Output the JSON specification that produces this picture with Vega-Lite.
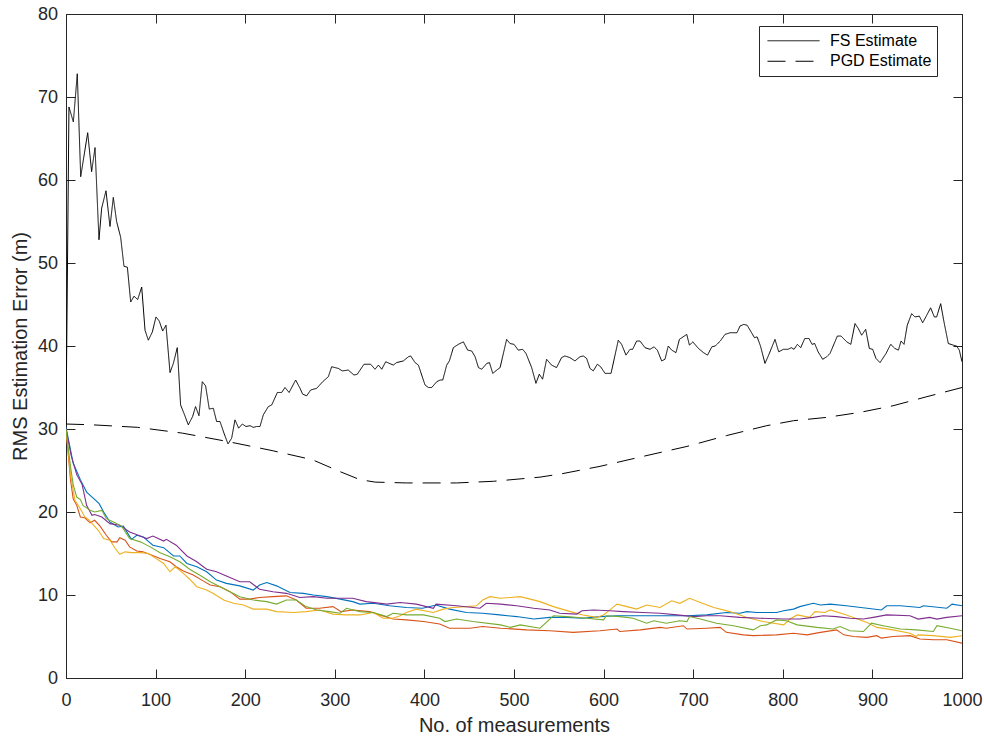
{
  "$schema": "https://vega.github.io/schema/vega-lite/v6.json",
  "width": 896,
  "height": 664,
  "autosize": {"type": "none"},
  "padding": {"left": 66, "top": 14, "right": 22, "bottom": 60},
  "background": "white",
  "config": {
    "view": {"stroke": "#262626", "strokeWidth": 1},
    "font": "Liberation Sans",
    "axis": {"grid": false, "domainColor": "#262626", "tickColor": "#262626", "labelColor": "#262626", "titleColor": "#262626", "labelFont": "Liberation Sans", "titleFont": "Liberation Sans", "titleFontWeight": "normal", "labelFontSize": 18, "titleFontSize": 20, "tickSize": -9, "labelFlush": false, "labelOverlap": false}
  },
  "datasets": {
    "est": [
      {"n":0,"v":30.6,"s":"FS Estimate"},{"n":3.3,"v":68.8,"s":"FS Estimate"},{"n":8.2,"v":67.0,"s":"FS Estimate"},{"n":12.6,"v":72.8,"s":"FS Estimate"},{"n":16.4,"v":60.4,"s":"FS Estimate"},{"n":24.2,"v":65.7,"s":"FS Estimate"},{"n":28.6,"v":61.0,"s":"FS Estimate"},{"n":32.4,"v":63.9,"s":"FS Estimate"},{"n":36.8,"v":52.8,"s":"FS Estimate"},{"n":39.8,"v":56.6,"s":"FS Estimate"},{"n":44.6,"v":58.7,"s":"FS Estimate"},{"n":49.1,"v":54.4,"s":"FS Estimate"},{"n":52.8,"v":57.9,"s":"FS Estimate"},{"n":56.5,"v":55.0,"s":"FS Estimate"},{"n":61.0,"v":53.1,"s":"FS Estimate"},{"n":64.7,"v":49.6,"s":"FS Estimate"},{"n":68.5,"v":49.5,"s":"FS Estimate"},{"n":72.2,"v":45.3,"s":"FS Estimate"},{"n":75.9,"v":46.0,"s":"FS Estimate"},{"n":80.0,"v":45.6,"s":"FS Estimate"},{"n":84.5,"v":47.1,"s":"FS Estimate"},{"n":88.2,"v":41.9,"s":"FS Estimate"},{"n":91.9,"v":40.7,"s":"FS Estimate"},{"n":96.4,"v":41.7,"s":"FS Estimate"},{"n":100.4,"v":43.5,"s":"FS Estimate"},{"n":104.1,"v":43.0,"s":"FS Estimate"},{"n":107.9,"v":41.8,"s":"FS Estimate"},{"n":111.6,"v":42.5,"s":"FS Estimate"},{"n":116.1,"v":36.8,"s":"FS Estimate"},{"n":119.8,"v":37.9,"s":"FS Estimate"},{"n":124.2,"v":39.8,"s":"FS Estimate"},{"n":127.9,"v":32.9,"s":"FS Estimate"},{"n":131.6,"v":31.9,"s":"FS Estimate"},{"n":136.5,"v":30.5,"s":"FS Estimate"},{"n":141.3,"v":31.5,"s":"FS Estimate"},{"n":144.6,"v":32.7,"s":"FS Estimate"},{"n":148.4,"v":31.6,"s":"FS Estimate"},{"n":152.1,"v":35.7,"s":"FS Estimate"},{"n":155.8,"v":35.2,"s":"FS Estimate"},{"n":159.9,"v":32.4,"s":"FS Estimate"},{"n":164.4,"v":32.5,"s":"FS Estimate"},{"n":168.1,"v":30.9,"s":"FS Estimate"},{"n":171.9,"v":30.9,"s":"FS Estimate"},{"n":176.3,"v":29.5,"s":"FS Estimate"},{"n":180.8,"v":28.2,"s":"FS Estimate"},{"n":184.9,"v":28.9,"s":"FS Estimate"},{"n":188.6,"v":31.1,"s":"FS Estimate"},{"n":192.7,"v":30.1,"s":"FS Estimate"},{"n":196.8,"v":30.6,"s":"FS Estimate"},{"n":200.9,"v":30.3,"s":"FS Estimate"},{"n":205.4,"v":30.4,"s":"FS Estimate"},{"n":209.1,"v":30.2,"s":"FS Estimate"},{"n":212.8,"v":30.3,"s":"FS Estimate"},{"n":216.5,"v":30.3,"s":"FS Estimate"},{"n":220.2,"v":31.7,"s":"FS Estimate"},{"n":225.8,"v":32.7,"s":"FS Estimate"},{"n":229.6,"v":32.9,"s":"FS Estimate"},{"n":235.9,"v":34.4,"s":"FS Estimate"},{"n":240.7,"v":34.4,"s":"FS Estimate"},{"n":244.4,"v":35.0,"s":"FS Estimate"},{"n":249.0,"v":34.4,"s":"FS Estimate"},{"n":256.3,"v":35.9,"s":"FS Estimate"},{"n":261.2,"v":34.9,"s":"FS Estimate"},{"n":264.1,"v":34.2,"s":"FS Estimate"},{"n":268.6,"v":34.0,"s":"FS Estimate"},{"n":273.1,"v":34.7,"s":"FS Estimate"},{"n":279.8,"v":34.9,"s":"FS Estimate"},{"n":286.5,"v":35.7,"s":"FS Estimate"},{"n":292.8,"v":36.3,"s":"FS Estimate"},{"n":296.5,"v":37.5,"s":"FS Estimate"},{"n":303.9,"v":37.3,"s":"FS Estimate"},{"n":308.4,"v":37.0,"s":"FS Estimate"},{"n":315.1,"v":37.1,"s":"FS Estimate"},{"n":321.4,"v":36.5,"s":"FS Estimate"},{"n":325.1,"v":36.6,"s":"FS Estimate"},{"n":332.6,"v":37.8,"s":"FS Estimate"},{"n":340.0,"v":37.8,"s":"FS Estimate"},{"n":344.9,"v":37.2,"s":"FS Estimate"},{"n":348.7,"v":37.7,"s":"FS Estimate"},{"n":352.4,"v":37.2,"s":"FS Estimate"},{"n":356.8,"v":38.1,"s":"FS Estimate"},{"n":365.3,"v":37.7,"s":"FS Estimate"},{"n":369.0,"v":38.0,"s":"FS Estimate"},{"n":376.5,"v":38.2,"s":"FS Estimate"},{"n":382.1,"v":38.7,"s":"FS Estimate"},{"n":384.7,"v":38.8,"s":"FS Estimate"},{"n":389.6,"v":38.0,"s":"FS Estimate"},{"n":393.3,"v":37.7,"s":"FS Estimate"},{"n":397.0,"v":36.5,"s":"FS Estimate"},{"n":400.7,"v":35.3,"s":"FS Estimate"},{"n":404.5,"v":35.0,"s":"FS Estimate"},{"n":408.2,"v":35.0,"s":"FS Estimate"},{"n":413.8,"v":35.7,"s":"FS Estimate"},{"n":417.6,"v":35.9,"s":"FS Estimate"},{"n":420.5,"v":35.9,"s":"FS Estimate"},{"n":424.9,"v":37.7,"s":"FS Estimate"},{"n":427.9,"v":38.2,"s":"FS Estimate"},{"n":432.3,"v":39.8,"s":"FS Estimate"},{"n":437.9,"v":40.2,"s":"FS Estimate"},{"n":443.5,"v":40.5,"s":"FS Estimate"},{"n":448.3,"v":39.5,"s":"FS Estimate"},{"n":452.8,"v":39.4,"s":"FS Estimate"},{"n":456.6,"v":38.7,"s":"FS Estimate"},{"n":460.3,"v":37.4,"s":"FS Estimate"},{"n":464.0,"v":37.2,"s":"FS Estimate"},{"n":469.6,"v":37.9,"s":"FS Estimate"},{"n":472.6,"v":38.0,"s":"FS Estimate"},{"n":476.3,"v":36.7,"s":"FS Estimate"},{"n":480.8,"v":37.1,"s":"FS Estimate"},{"n":484.5,"v":37.4,"s":"FS Estimate"},{"n":491.8,"v":40.8,"s":"FS Estimate"},{"n":495.5,"v":40.3,"s":"FS Estimate"},{"n":500.0,"v":40.2,"s":"FS Estimate"},{"n":504.8,"v":39.5,"s":"FS Estimate"},{"n":509.7,"v":39.6,"s":"FS Estimate"},{"n":513.4,"v":39.1,"s":"FS Estimate"},{"n":519.7,"v":37.4,"s":"FS Estimate"},{"n":524.5,"v":35.5,"s":"FS Estimate"},{"n":528.2,"v":36.6,"s":"FS Estimate"},{"n":531.9,"v":36.0,"s":"FS Estimate"},{"n":536.4,"v":38.4,"s":"FS Estimate"},{"n":541.9,"v":37.7,"s":"FS Estimate"},{"n":547.5,"v":37.4,"s":"FS Estimate"},{"n":553.1,"v":38.6,"s":"FS Estimate"},{"n":556.8,"v":38.8,"s":"FS Estimate"},{"n":562.4,"v":38.6,"s":"FS Estimate"},{"n":568.0,"v":38.2,"s":"FS Estimate"},{"n":573.6,"v":38.7,"s":"FS Estimate"},{"n":577.4,"v":38.8,"s":"FS Estimate"},{"n":581.1,"v":38.5,"s":"FS Estimate"},{"n":584.8,"v":37.3,"s":"FS Estimate"},{"n":588.5,"v":37.0,"s":"FS Estimate"},{"n":593.0,"v":37.8,"s":"FS Estimate"},{"n":596.7,"v":37.5,"s":"FS Estimate"},{"n":601.6,"v":36.7,"s":"FS Estimate"},{"n":608.3,"v":36.7,"s":"FS Estimate"},{"n":616.4,"v":40.7,"s":"FS Estimate"},{"n":620.1,"v":40.2,"s":"FS Estimate"},{"n":625.0,"v":38.9,"s":"FS Estimate"},{"n":629.5,"v":39.6,"s":"FS Estimate"},{"n":632.4,"v":39.6,"s":"FS Estimate"},{"n":636.9,"v":40.6,"s":"FS Estimate"},{"n":640.6,"v":40.6,"s":"FS Estimate"},{"n":646.2,"v":39.8,"s":"FS Estimate"},{"n":651.8,"v":39.6,"s":"FS Estimate"},{"n":656.3,"v":39.9,"s":"FS Estimate"},{"n":660.0,"v":39.5,"s":"FS Estimate"},{"n":664.8,"v":38.2,"s":"FS Estimate"},{"n":668.5,"v":38.4,"s":"FS Estimate"},{"n":672.2,"v":40.0,"s":"FS Estimate"},{"n":676.0,"v":39.5,"s":"FS Estimate"},{"n":680.8,"v":39.2,"s":"FS Estimate"},{"n":684.6,"v":40.8,"s":"FS Estimate"},{"n":692.8,"v":41.4,"s":"FS Estimate"},{"n":695.8,"v":40.1,"s":"FS Estimate"},{"n":699.5,"v":40.5,"s":"FS Estimate"},{"n":705.9,"v":39.7,"s":"FS Estimate"},{"n":711.5,"v":39.2,"s":"FS Estimate"},{"n":716.0,"v":38.9,"s":"FS Estimate"},{"n":720.8,"v":39.9,"s":"FS Estimate"},{"n":724.6,"v":40.0,"s":"FS Estimate"},{"n":730.2,"v":40.6,"s":"FS Estimate"},{"n":735.5,"v":41.4,"s":"FS Estimate"},{"n":741.4,"v":41.6,"s":"FS Estimate"},{"n":748.9,"v":41.6,"s":"FS Estimate"},{"n":752.2,"v":42.4,"s":"FS Estimate"},{"n":756.4,"v":42.6,"s":"FS Estimate"},{"n":760.2,"v":42.5,"s":"FS Estimate"},{"n":764.6,"v":41.7,"s":"FS Estimate"},{"n":768.4,"v":41.0,"s":"FS Estimate"},{"n":771.3,"v":41.1,"s":"FS Estimate"},{"n":775.1,"v":40.0,"s":"FS Estimate"},{"n":780.1,"v":37.9,"s":"FS Estimate"},{"n":784.2,"v":38.9,"s":"FS Estimate"},{"n":791.3,"v":40.8,"s":"FS Estimate"},{"n":795.4,"v":39.3,"s":"FS Estimate"},{"n":800.6,"v":39.6,"s":"FS Estimate"},{"n":805.8,"v":39.6,"s":"FS Estimate"},{"n":809.6,"v":39.8,"s":"FS Estimate"},{"n":812.5,"v":39.6,"s":"FS Estimate"},{"n":816.3,"v":40.2,"s":"FS Estimate"},{"n":820.0,"v":39.8,"s":"FS Estimate"},{"n":824.5,"v":40.9,"s":"FS Estimate"},{"n":829.3,"v":40.9,"s":"FS Estimate"},{"n":832.6,"v":40.2,"s":"FS Estimate"},{"n":835.6,"v":40.3,"s":"FS Estimate"},{"n":839.4,"v":39.3,"s":"FS Estimate"},{"n":844.5,"v":38.4,"s":"FS Estimate"},{"n":849.0,"v":38.7,"s":"FS Estimate"},{"n":852.7,"v":39.1,"s":"FS Estimate"},{"n":860.9,"v":41.2,"s":"FS Estimate"},{"n":865.0,"v":41.2,"s":"FS Estimate"},{"n":871.4,"v":40.5,"s":"FS Estimate"},{"n":875.9,"v":40.2,"s":"FS Estimate"},{"n":880.6,"v":42.7,"s":"FS Estimate"},{"n":884.3,"v":42.1,"s":"FS Estimate"},{"n":888.0,"v":41.3,"s":"FS Estimate"},{"n":892.5,"v":42.0,"s":"FS Estimate"},{"n":896.6,"v":39.7,"s":"FS Estimate"},{"n":900.3,"v":39.6,"s":"FS Estimate"},{"n":904.0,"v":38.5,"s":"FS Estimate"},{"n":908.5,"v":38.0,"s":"FS Estimate"},{"n":915.2,"v":39.1,"s":"FS Estimate"},{"n":920.4,"v":40.2,"s":"FS Estimate"},{"n":925.2,"v":39.7,"s":"FS Estimate"},{"n":929.0,"v":39.5,"s":"FS Estimate"},{"n":932.0,"v":40.6,"s":"FS Estimate"},{"n":935.3,"v":40.2,"s":"FS Estimate"},{"n":938.9,"v":42.5,"s":"FS Estimate"},{"n":943.8,"v":43.9,"s":"FS Estimate"},{"n":947.5,"v":43.5,"s":"FS Estimate"},{"n":952.4,"v":43.6,"s":"FS Estimate"},{"n":956.1,"v":42.8,"s":"FS Estimate"},{"n":960.6,"v":43.7,"s":"FS Estimate"},{"n":965.0,"v":44.6,"s":"FS Estimate"},{"n":969.1,"v":43.5,"s":"FS Estimate"},{"n":971.7,"v":43.5,"s":"FS Estimate"},{"n":976.2,"v":45.1,"s":"FS Estimate"},{"n":979.9,"v":42.9,"s":"FS Estimate"},{"n":984.7,"v":40.3,"s":"FS Estimate"},{"n":990.3,"v":40.1,"s":"FS Estimate"},{"n":994.0,"v":40.0,"s":"FS Estimate"},{"n":997.0,"v":39.5,"s":"FS Estimate"},{"n":1000,"v":38.1,"s":"FS Estimate"},
      {"n":0,"v":30.6,"s":"PGD Estimate"},{"n":30,"v":30.5,"s":"PGD Estimate"},{"n":80,"v":30.2,"s":"PGD Estimate"},{"n":130,"v":29.5,"s":"PGD Estimate"},{"n":180,"v":28.5,"s":"PGD Estimate"},{"n":230,"v":27.4,"s":"PGD Estimate"},{"n":275,"v":26.3,"s":"PGD Estimate"},{"n":305,"v":24.9,"s":"PGD Estimate"},{"n":328,"v":23.9,"s":"PGD Estimate"},{"n":345,"v":23.6,"s":"PGD Estimate"},{"n":380,"v":23.5,"s":"PGD Estimate"},{"n":436,"v":23.5,"s":"PGD Estimate"},{"n":477,"v":23.7,"s":"PGD Estimate"},{"n":529,"v":24.2,"s":"PGD Estimate"},{"n":553,"v":24.6,"s":"PGD Estimate"},{"n":596,"v":25.5,"s":"PGD Estimate"},{"n":644,"v":26.7,"s":"PGD Estimate"},{"n":693,"v":27.9,"s":"PGD Estimate"},{"n":737,"v":29.2,"s":"PGD Estimate"},{"n":782,"v":30.4,"s":"PGD Estimate"},{"n":812,"v":31.0,"s":"PGD Estimate"},{"n":849,"v":31.4,"s":"PGD Estimate"},{"n":886,"v":32.0,"s":"PGD Estimate"},{"n":923,"v":32.8,"s":"PGD Estimate"},{"n":961,"v":33.9,"s":"PGD Estimate"},{"n":1000,"v":35.0,"s":"PGD Estimate"}
    ],
    "runs": [
      {"n":0,"v":30.2,"r":"1"},{"n":8,"v":25.9,"r":"1"},{"n":16,"v":23.9,"r":"1"},{"n":23,"v":22.4,"r":"1"},{"n":31,"v":21.6,"r":"1"},{"n":37,"v":21.0,"r":"1"},{"n":42,"v":20.0,"r":"1"},{"n":49,"v":18.8,"r":"1"},{"n":58,"v":18.2,"r":"1"},{"n":64,"v":18.3,"r":"1"},{"n":73,"v":16.7,"r":"1"},{"n":79,"v":17.2,"r":"1"},{"n":86,"v":17.0,"r":"1"},{"n":97,"v":16.0,"r":"1"},{"n":109,"v":15.7,"r":"1"},{"n":120,"v":14.7,"r":"1"},{"n":127,"v":14.7,"r":"1"},{"n":135,"v":13.8,"r":"1"},{"n":146,"v":13.4,"r":"1"},{"n":157,"v":12.8,"r":"1"},{"n":168,"v":11.8,"r":"1"},{"n":179,"v":11.4,"r":"1"},{"n":194,"v":11.1,"r":"1"},{"n":209,"v":10.6,"r":"1"},{"n":216,"v":11.2,"r":"1"},{"n":224,"v":11.5,"r":"1"},{"n":235,"v":11.1,"r":"1"},{"n":250,"v":10.3,"r":"1"},{"n":265,"v":10.2,"r":"1"},{"n":276,"v":10.0,"r":"1"},{"n":291,"v":9.8,"r":"1"},{"n":306,"v":9.5,"r":"1"},{"n":320,"v":9.2,"r":"1"},{"n":328,"v":8.9,"r":"1"},{"n":343,"v":9.0,"r":"1"},{"n":361,"v":8.7,"r":"1"},{"n":380,"v":8.5,"r":"1"},{"n":398,"v":8.4,"r":"1"},{"n":413,"v":8.8,"r":"1"},{"n":428,"v":8.3,"r":"1"},{"n":447,"v":7.9,"r":"1"},{"n":465,"v":7.8,"r":"1"},{"n":484,"v":7.6,"r":"1"},{"n":503,"v":7.4,"r":"1"},{"n":522,"v":7.1,"r":"1"},{"n":540,"v":7.3,"r":"1"},{"n":559,"v":7.3,"r":"1"},{"n":577,"v":7.2,"r":"1"},{"n":596,"v":7.4,"r":"1"},{"n":615,"v":7.5,"r":"1"},{"n":633,"v":7.5,"r":"1"},{"n":652,"v":7.5,"r":"1"},{"n":670,"v":7.5,"r":"1"},{"n":693,"v":7.5,"r":"1"},{"n":715,"v":7.6,"r":"1"},{"n":737,"v":7.9,"r":"1"},{"n":752,"v":7.8,"r":"1"},{"n":760,"v":8.0,"r":"1"},{"n":771,"v":7.9,"r":"1"},{"n":793,"v":7.9,"r":"1"},{"n":801,"v":8.1,"r":"1"},{"n":812,"v":8.3,"r":"1"},{"n":819,"v":8.6,"r":"1"},{"n":834,"v":9.0,"r":"1"},{"n":842,"v":8.8,"r":"1"},{"n":853,"v":8.9,"r":"1"},{"n":871,"v":8.7,"r":"1"},{"n":894,"v":8.4,"r":"1"},{"n":910,"v":8.2,"r":"1"},{"n":916,"v":8.7,"r":"1"},{"n":931,"v":8.7,"r":"1"},{"n":953,"v":8.5,"r":"1"},{"n":957,"v":8.7,"r":"1"},{"n":983,"v":8.4,"r":"1"},{"n":989,"v":8.9,"r":"1"},{"n":1000,"v":8.7,"r":"1"},
      {"n":0,"v":30.0,"r":"2"},{"n":5,"v":23.9,"r":"2"},{"n":8,"v":21.6,"r":"2"},{"n":12,"v":20.8,"r":"2"},{"n":16,"v":19.4,"r":"2"},{"n":21,"v":19.3,"r":"2"},{"n":27,"v":18.7,"r":"2"},{"n":32,"v":19.0,"r":"2"},{"n":38,"v":18.3,"r":"2"},{"n":45,"v":17.2,"r":"2"},{"n":51,"v":16.4,"r":"2"},{"n":57,"v":16.4,"r":"2"},{"n":60,"v":16.9,"r":"2"},{"n":66,"v":16.6,"r":"2"},{"n":71,"v":15.8,"r":"2"},{"n":79,"v":15.3,"r":"2"},{"n":86,"v":15.2,"r":"2"},{"n":96,"v":14.8,"r":"2"},{"n":105,"v":14.4,"r":"2"},{"n":116,"v":14.0,"r":"2"},{"n":123,"v":13.4,"r":"2"},{"n":131,"v":12.9,"r":"2"},{"n":142,"v":12.4,"r":"2"},{"n":153,"v":11.7,"r":"2"},{"n":161,"v":11.2,"r":"2"},{"n":172,"v":11.0,"r":"2"},{"n":183,"v":10.4,"r":"2"},{"n":194,"v":9.5,"r":"2"},{"n":205,"v":9.5,"r":"2"},{"n":216,"v":9.7,"r":"2"},{"n":231,"v":9.8,"r":"2"},{"n":246,"v":9.9,"r":"2"},{"n":257,"v":9.4,"r":"2"},{"n":268,"v":8.4,"r":"2"},{"n":283,"v":8.4,"r":"2"},{"n":298,"v":8.6,"r":"2"},{"n":307,"v":8.0,"r":"2"},{"n":320,"v":8.2,"r":"2"},{"n":339,"v":8.0,"r":"2"},{"n":350,"v":7.6,"r":"2"},{"n":365,"v":7.1,"r":"2"},{"n":380,"v":7.0,"r":"2"},{"n":399,"v":6.8,"r":"2"},{"n":417,"v":6.5,"r":"2"},{"n":428,"v":6.0,"r":"2"},{"n":451,"v":6.0,"r":"2"},{"n":465,"v":6.2,"r":"2"},{"n":485,"v":6.0,"r":"2"},{"n":514,"v":5.8,"r":"2"},{"n":540,"v":5.7,"r":"2"},{"n":566,"v":5.5,"r":"2"},{"n":596,"v":5.7,"r":"2"},{"n":615,"v":5.9,"r":"2"},{"n":618,"v":5.6,"r":"2"},{"n":641,"v":5.8,"r":"2"},{"n":663,"v":6.1,"r":"2"},{"n":670,"v":6.0,"r":"2"},{"n":689,"v":6.3,"r":"2"},{"n":693,"v":5.9,"r":"2"},{"n":715,"v":6.0,"r":"2"},{"n":730,"v":6.1,"r":"2"},{"n":737,"v":5.5,"r":"2"},{"n":756,"v":5.2,"r":"2"},{"n":767,"v":5.1,"r":"2"},{"n":793,"v":5.2,"r":"2"},{"n":812,"v":5.4,"r":"2"},{"n":827,"v":5.2,"r":"2"},{"n":842,"v":5.5,"r":"2"},{"n":860,"v":5.8,"r":"2"},{"n":868,"v":5.2,"r":"2"},{"n":879,"v":5.0,"r":"2"},{"n":894,"v":4.9,"r":"2"},{"n":905,"v":5.1,"r":"2"},{"n":910,"v":4.8,"r":"2"},{"n":923,"v":5.0,"r":"2"},{"n":942,"v":5.1,"r":"2"},{"n":953,"v":4.7,"r":"2"},{"n":968,"v":4.6,"r":"2"},{"n":983,"v":4.6,"r":"2"},{"n":1000,"v":4.2,"r":"2"},
      {"n":0,"v":30.0,"r":"3"},{"n":5,"v":24.5,"r":"3"},{"n":10,"v":21.4,"r":"3"},{"n":16,"v":20.4,"r":"3"},{"n":21,"v":19.4,"r":"3"},{"n":25,"v":19.1,"r":"3"},{"n":31,"v":18.4,"r":"3"},{"n":36,"v":17.8,"r":"3"},{"n":42,"v":16.8,"r":"3"},{"n":49,"v":16.6,"r":"3"},{"n":55,"v":15.6,"r":"3"},{"n":60,"v":14.9,"r":"3"},{"n":66,"v":15.2,"r":"3"},{"n":73,"v":15.1,"r":"3"},{"n":83,"v":15.1,"r":"3"},{"n":92,"v":15.0,"r":"3"},{"n":99,"v":14.5,"r":"3"},{"n":109,"v":13.8,"r":"3"},{"n":116,"v":12.8,"r":"3"},{"n":122,"v":13.4,"r":"3"},{"n":131,"v":12.6,"r":"3"},{"n":138,"v":11.9,"r":"3"},{"n":146,"v":11.0,"r":"3"},{"n":157,"v":10.6,"r":"3"},{"n":164,"v":10.2,"r":"3"},{"n":176,"v":9.4,"r":"3"},{"n":187,"v":9.0,"r":"3"},{"n":198,"v":8.8,"r":"3"},{"n":209,"v":8.3,"r":"3"},{"n":224,"v":8.3,"r":"3"},{"n":235,"v":8.0,"r":"3"},{"n":254,"v":7.9,"r":"3"},{"n":268,"v":8.0,"r":"3"},{"n":283,"v":8.2,"r":"3"},{"n":298,"v":7.7,"r":"3"},{"n":313,"v":7.6,"r":"3"},{"n":328,"v":7.6,"r":"3"},{"n":343,"v":7.9,"r":"3"},{"n":354,"v":7.2,"r":"3"},{"n":365,"v":7.2,"r":"3"},{"n":373,"v":7.5,"r":"3"},{"n":380,"v":7.9,"r":"3"},{"n":391,"v":8.3,"r":"3"},{"n":410,"v":7.9,"r":"3"},{"n":421,"v":8.3,"r":"3"},{"n":432,"v":8.5,"r":"3"},{"n":447,"v":8.6,"r":"3"},{"n":458,"v":8.7,"r":"3"},{"n":465,"v":9.4,"r":"3"},{"n":473,"v":9.8,"r":"3"},{"n":485,"v":9.6,"r":"3"},{"n":496,"v":9.7,"r":"3"},{"n":507,"v":9.8,"r":"3"},{"n":518,"v":9.5,"r":"3"},{"n":529,"v":9.2,"r":"3"},{"n":544,"v":8.6,"r":"3"},{"n":563,"v":8.0,"r":"3"},{"n":577,"v":7.6,"r":"3"},{"n":592,"v":7.3,"r":"3"},{"n":600,"v":7.6,"r":"3"},{"n":607,"v":8.2,"r":"3"},{"n":615,"v":8.9,"r":"3"},{"n":626,"v":8.6,"r":"3"},{"n":637,"v":8.3,"r":"3"},{"n":648,"v":8.8,"r":"3"},{"n":663,"v":8.5,"r":"3"},{"n":676,"v":9.3,"r":"3"},{"n":685,"v":9.0,"r":"3"},{"n":696,"v":9.6,"r":"3"},{"n":708,"v":9.1,"r":"3"},{"n":723,"v":8.5,"r":"3"},{"n":741,"v":8.0,"r":"3"},{"n":760,"v":7.3,"r":"3"},{"n":778,"v":6.8,"r":"3"},{"n":801,"v":6.4,"r":"3"},{"n":808,"v":7.1,"r":"3"},{"n":816,"v":7.6,"r":"3"},{"n":830,"v":7.3,"r":"3"},{"n":836,"v":8.0,"r":"3"},{"n":847,"v":7.9,"r":"3"},{"n":853,"v":8.2,"r":"3"},{"n":871,"v":7.6,"r":"3"},{"n":894,"v":6.7,"r":"3"},{"n":905,"v":6.1,"r":"3"},{"n":923,"v":5.8,"r":"3"},{"n":942,"v":5.4,"r":"3"},{"n":949,"v":5.0,"r":"3"},{"n":951,"v":5.2,"r":"3"},{"n":968,"v":5.1,"r":"3"},{"n":987,"v":4.9,"r":"3"},{"n":1000,"v":5.1,"r":"3"},
      {"n":0,"v":30.0,"r":"4"},{"n":6,"v":26.7,"r":"4"},{"n":12,"v":24.5,"r":"4"},{"n":18,"v":23.3,"r":"4"},{"n":23,"v":20.8,"r":"4"},{"n":29,"v":19.6,"r":"4"},{"n":32,"v":19.7,"r":"4"},{"n":40,"v":19.4,"r":"4"},{"n":49,"v":18.6,"r":"4"},{"n":60,"v":18.4,"r":"4"},{"n":71,"v":17.6,"r":"4"},{"n":83,"v":17.1,"r":"4"},{"n":90,"v":16.8,"r":"4"},{"n":97,"v":17.1,"r":"4"},{"n":109,"v":16.5,"r":"4"},{"n":112,"v":16.7,"r":"4"},{"n":123,"v":16.0,"r":"4"},{"n":135,"v":14.7,"r":"4"},{"n":146,"v":14.0,"r":"4"},{"n":157,"v":13.1,"r":"4"},{"n":168,"v":12.8,"r":"4"},{"n":179,"v":12.3,"r":"4"},{"n":194,"v":11.6,"r":"4"},{"n":205,"v":11.6,"r":"4"},{"n":216,"v":10.7,"r":"4"},{"n":231,"v":10.4,"r":"4"},{"n":246,"v":10.2,"r":"4"},{"n":261,"v":9.7,"r":"4"},{"n":276,"v":9.8,"r":"4"},{"n":291,"v":9.6,"r":"4"},{"n":306,"v":9.6,"r":"4"},{"n":320,"v":9.6,"r":"4"},{"n":335,"v":9.2,"r":"4"},{"n":358,"v":8.9,"r":"4"},{"n":373,"v":9.1,"r":"4"},{"n":391,"v":8.9,"r":"4"},{"n":410,"v":8.4,"r":"4"},{"n":413,"v":8.9,"r":"4"},{"n":436,"v":8.7,"r":"4"},{"n":462,"v":8.4,"r":"4"},{"n":469,"v":9.0,"r":"4"},{"n":485,"v":8.9,"r":"4"},{"n":503,"v":8.7,"r":"4"},{"n":522,"v":8.4,"r":"4"},{"n":540,"v":8.2,"r":"4"},{"n":551,"v":7.8,"r":"4"},{"n":570,"v":7.7,"r":"4"},{"n":576,"v":8.1,"r":"4"},{"n":589,"v":8.2,"r":"4"},{"n":607,"v":8.1,"r":"4"},{"n":622,"v":8.0,"r":"4"},{"n":644,"v":7.9,"r":"4"},{"n":663,"v":7.8,"r":"4"},{"n":682,"v":7.6,"r":"4"},{"n":700,"v":7.4,"r":"4"},{"n":715,"v":7.5,"r":"4"},{"n":730,"v":7.5,"r":"4"},{"n":752,"v":7.3,"r":"4"},{"n":775,"v":7.2,"r":"4"},{"n":801,"v":7.1,"r":"4"},{"n":819,"v":7.1,"r":"4"},{"n":834,"v":7.3,"r":"4"},{"n":845,"v":7.5,"r":"4"},{"n":860,"v":7.4,"r":"4"},{"n":875,"v":7.2,"r":"4"},{"n":890,"v":7.1,"r":"4"},{"n":901,"v":7.3,"r":"4"},{"n":916,"v":7.6,"r":"4"},{"n":942,"v":7.5,"r":"4"},{"n":951,"v":7.1,"r":"4"},{"n":964,"v":7.3,"r":"4"},{"n":972,"v":7.1,"r":"4"},{"n":983,"v":7.3,"r":"4"},{"n":1000,"v":7.5,"r":"4"},
      {"n":0,"v":30.0,"r":"5"},{"n":5,"v":25.5,"r":"5"},{"n":8,"v":23.3,"r":"5"},{"n":12,"v":21.8,"r":"5"},{"n":16,"v":21.5,"r":"5"},{"n":19,"v":20.8,"r":"5"},{"n":27,"v":20.2,"r":"5"},{"n":32,"v":20.0,"r":"5"},{"n":40,"v":20.2,"r":"5"},{"n":45,"v":19.2,"r":"5"},{"n":53,"v":18.8,"r":"5"},{"n":62,"v":18.3,"r":"5"},{"n":71,"v":16.8,"r":"5"},{"n":83,"v":16.4,"r":"5"},{"n":94,"v":15.8,"r":"5"},{"n":105,"v":15.1,"r":"5"},{"n":116,"v":14.6,"r":"5"},{"n":127,"v":14.0,"r":"5"},{"n":138,"v":13.1,"r":"5"},{"n":149,"v":12.4,"r":"5"},{"n":161,"v":11.6,"r":"5"},{"n":172,"v":11.0,"r":"5"},{"n":183,"v":10.4,"r":"5"},{"n":194,"v":9.8,"r":"5"},{"n":209,"v":9.4,"r":"5"},{"n":224,"v":9.2,"r":"5"},{"n":235,"v":8.9,"r":"5"},{"n":246,"v":9.4,"r":"5"},{"n":257,"v":9.4,"r":"5"},{"n":268,"v":8.6,"r":"5"},{"n":280,"v":8.2,"r":"5"},{"n":294,"v":8.0,"r":"5"},{"n":306,"v":7.8,"r":"5"},{"n":313,"v":8.4,"r":"5"},{"n":328,"v":8.0,"r":"5"},{"n":343,"v":7.9,"r":"5"},{"n":358,"v":7.4,"r":"5"},{"n":365,"v":7.8,"r":"5"},{"n":380,"v":7.6,"r":"5"},{"n":399,"v":7.6,"r":"5"},{"n":417,"v":7.2,"r":"5"},{"n":423,"v":6.8,"r":"5"},{"n":436,"v":7.1,"r":"5"},{"n":454,"v":6.8,"r":"5"},{"n":485,"v":6.4,"r":"5"},{"n":496,"v":6.1,"r":"5"},{"n":507,"v":6.4,"r":"5"},{"n":529,"v":6.0,"r":"5"},{"n":544,"v":7.5,"r":"5"},{"n":559,"v":7.4,"r":"5"},{"n":581,"v":7.2,"r":"5"},{"n":600,"v":7.0,"r":"5"},{"n":603,"v":7.5,"r":"5"},{"n":618,"v":7.4,"r":"5"},{"n":633,"v":7.2,"r":"5"},{"n":648,"v":6.6,"r":"5"},{"n":656,"v":6.9,"r":"5"},{"n":670,"v":6.6,"r":"5"},{"n":685,"v":6.9,"r":"5"},{"n":693,"v":6.8,"r":"5"},{"n":696,"v":7.4,"r":"5"},{"n":708,"v":7.1,"r":"5"},{"n":726,"v":6.6,"r":"5"},{"n":745,"v":6.3,"r":"5"},{"n":767,"v":5.8,"r":"5"},{"n":775,"v":6.3,"r":"5"},{"n":782,"v":6.4,"r":"5"},{"n":793,"v":7.0,"r":"5"},{"n":804,"v":6.9,"r":"5"},{"n":816,"v":6.4,"r":"5"},{"n":838,"v":6.1,"r":"5"},{"n":856,"v":5.9,"r":"5"},{"n":864,"v":6.2,"r":"5"},{"n":875,"v":5.7,"r":"5"},{"n":890,"v":5.6,"r":"5"},{"n":899,"v":6.6,"r":"5"},{"n":912,"v":6.3,"r":"5"},{"n":931,"v":5.9,"r":"5"},{"n":949,"v":5.8,"r":"5"},{"n":968,"v":5.6,"r":"5"},{"n":972,"v":6.3,"r":"5"},{"n":987,"v":6.0,"r":"5"},{"n":1000,"v":5.7,"r":"5"}
    ]
  },
  "layer": [
    {
      "data": {"name": "runs"},
      "mark": {"type": "line", "strokeWidth": 1.1, "clip": true},
      "encoding": {
        "x": {"field": "n", "type": "quantitative", "scale": {"domain": [0, 1000], "nice": false, "zero": false},
              "axis": {"orient": "bottom", "values": [0,100,200,300,400,500,600,700,800,900,1000], "format": "d", "labelPadding": 22, "title": "No. of measurements", "titleBaseline": "alphabetic", "titleY": 53}},
        "y": {"field": "v", "type": "quantitative", "scale": {"domain": [0, 80], "nice": false},
              "axis": {"orient": "left", "values": [0,10,20,30,40,50,60,70,80], "format": "d", "labelPadding": 17.5, "title": "RMS Estimation Error (m)", "titleBaseline": "alphabetic", "titleX": -39.5}},
        "color": {"field": "r", "type": "nominal", "scale": {"domain": ["1","2","3","4","5"], "range": ["#0072BD","#D95319","#EDB120","#7E2F8E","#77AC30"]}, "legend": null}
      }
    },
    {
      "data": {"name": "est"},
      "mark": {"type": "line", "strokeWidth": 1, "color": "black", "clip": true},
      "encoding": {
        "x": {"field": "n", "type": "quantitative",
              "axis": {"orient": "top", "values": [0,100,200,300,400,500,600,700,800,900,1000], "labels": false, "title": null}},
        "y": {"field": "v", "type": "quantitative",
              "axis": {"orient": "right", "values": [0,10,20,30,40,50,60,70,80], "labels": false, "title": null}},
        "strokeDash": {"field": "s", "type": "nominal", "scale": {"domain": ["FS Estimate", "PGD Estimate"], "range": [[1, 0], [18, 10]]},
          "legend": {"title": null, "orient": "none", "legendX": 693, "legendY": 12, "fillColor": "white", "strokeColor": "#262626", "padding": 5, "cornerRadius": 0,
                     "symbolType": "stroke", "symbolSize": 2704, "symbolStrokeWidth": 1, "symbolStrokeColor": "black", "symbolOffset": 3,
                     "clipHeight": 19.5, "rowPadding": 0.5, "labelOffset": 10, "labelFont": "Liberation Sans", "labelFontSize": 16, "labelColor": "black"}}
      }
    }
  ],
  "resolve": {"axis": {"x": "independent", "y": "independent"}}
}
